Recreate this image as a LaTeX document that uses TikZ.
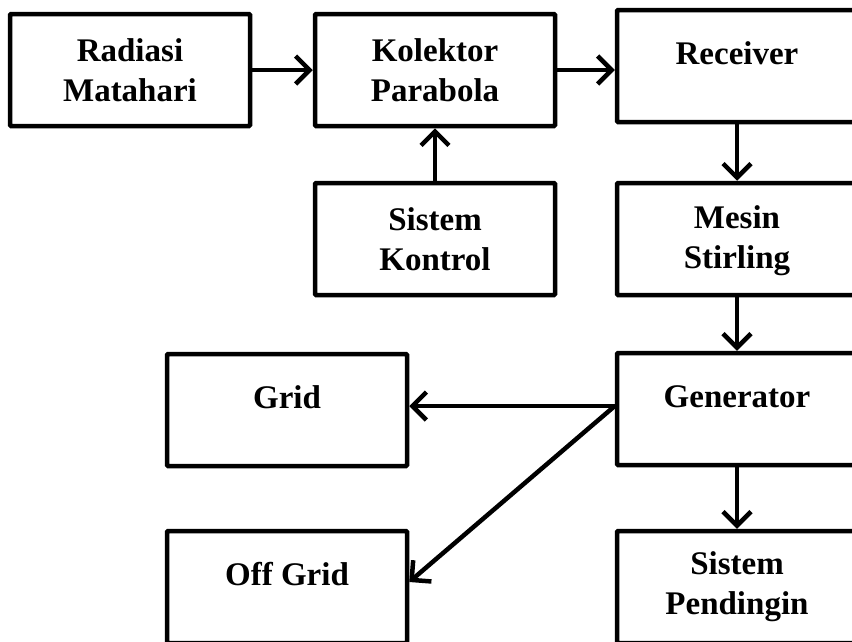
\documentclass[tikz,border=0pt]{standalone}
\usepackage{fontspec}
\setmainfont{Liberation Serif}
\usepackage{tikz}
\usetikzlibrary{arrows.meta}
\tikzset{box/.style={draw,line width=4.5pt,rounded corners=1pt,minimum width=240pt,minimum height=112pt,align=center,inner sep=0pt,font=\fontsize{33}{40}\selectfont\bfseries}}
\tikzset{high/.style={text height=22pt,text depth=26pt}}
\tikzset{arr/.style={line width=4.5pt,-{Straight Barb[length=14pt,width=28pt,line width=4.5pt]}}}

\begin{document}
\begin{tikzpicture}[x=1pt,y=-1pt]
        \useasboundingbox (0,0) rectangle (852,641);
        \clip (0,0) rectangle (852,641);
        \node[box] (rad) at (130,70) {Radiasi\\Matahari};
        \node[box] (kol) at (435,70) {Kolektor\\Parabola};
        \node[box,high] (rec) at (737,66) {Receiver};
        \node[box] (kon) at (435,239) {Sistem\\Kontrol};
        \node[box,text depth=4pt] (mes) at (737,239) {Mesin\\Stirling};
        \node[box,high] (gen) at (737,409) {Generator};
        \node[box,high] (grid) at (287,410) {Grid};
        \node[box,high] (off) at (287,587) {Off Grid};
        \node[box] (pen) at (737,587) {Sistem\\Pendingin};
        \draw[arr] (rad) -- (kol);
        \draw[arr] (kol) -- (kol -| rec.west);
        \draw[arr] (kon) -- (kol);
        \draw[arr] (rec) -- (mes);
        \draw[arr] (mes) -- (gen);
        \draw[arr] (gen) -- (pen);
        \draw[arr] ([yshift=3pt]gen.west) -- ([yshift=3pt]gen.west -| grid.east);
        \draw[arr] ([yshift=3pt]gen.west) -- ([yshift=5pt]off.east);
      \end{tikzpicture}
\end{document}
